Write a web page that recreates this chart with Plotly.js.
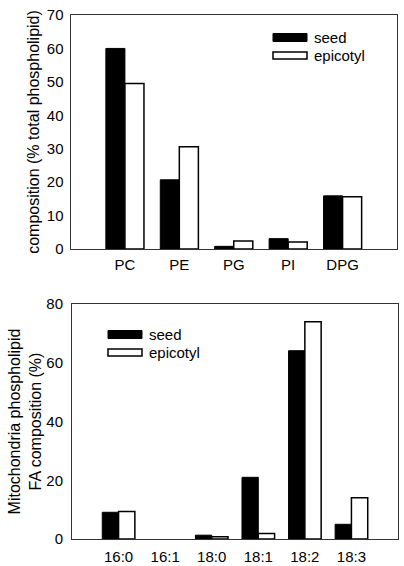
<!DOCTYPE html>
<html><head><meta charset="utf-8">
<script src="https://cdn.plot.ly/plotly-3.0.1.min.js"></script>
<style>html,body{margin:0;padding:0;background:#fff;}#chart{width:404px;height:566px;}</style>
</head><body><div id="chart"></div>
<script>
// Top panel: phospholipid class composition
const classCats = ['PC', 'PE', 'PG', 'PI', 'DPG'];
const classSeed = [60.0, 20.7, 0.8, 3.1, 15.9];
const classEpicotyl = [49.5, 30.6, 2.4, 2.1, 15.6];
// Bottom panel: fatty acid composition
const faCats = ['16:0', '16:1', '18:0', '18:1', '18:2', '18:3'];
const faSeed = [9.1, 0, 1.3, 21.0, 64.1, 5.0];
const faEpicotyl = [9.4, 0, 0.8, 1.9, 74.0, 14.0];
const seriesNames = ['seed', 'epicotyl'];

const W = 404, H = 566;
const px = v => v / W;
const py = v => 1 - v / H;
const FONT = 'Liberation Sans, Arial, sans-serif';
const lw = (vals, w) => vals.map(v => v > 0 ? w : 0);

const traces = [
  {type:'bar', x:classCats, y:classSeed, name:seriesNames[0], xaxis:'x', yaxis:'y',
   marker:{color:'#000', line:{color:'#000', width:lw(classSeed, 1)}}},
  {type:'bar', x:classCats, y:classEpicotyl, name:seriesNames[1], xaxis:'x', yaxis:'y',
   marker:{color:'#fff', line:{color:'#000', width:lw(classEpicotyl, 1.5)}}},
  {type:'bar', x:faCats, y:faSeed, name:seriesNames[0], xaxis:'x2', yaxis:'y2',
   marker:{color:'#000', line:{color:'#000', width:lw(faSeed, 1)}}},
  {type:'bar', x:faCats, y:faEpicotyl, name:seriesNames[1], xaxis:'x2', yaxis:'y2',
   marker:{color:'#fff', line:{color:'#000', width:lw(faEpicotyl, 1.5)}}}
];

const axLine = {showline:true, linecolor:'#333', linewidth:1, mirror:true, showgrid:false, zeroline:false, automargin:false};
const tf = {family:FONT, size:15, color:'#000'};

function legendItems(x0, yTop, yBot, textX) {
  const shapes = [
    {type:'rect', xref:'paper', yref:'paper', x0:px(x0), x1:px(x0+34), y0:py(yTop+4), y1:py(yTop-4),
     fillcolor:'#000', line:{color:'#000', width:1}},
    {type:'rect', xref:'paper', yref:'paper', x0:px(x0), x1:px(x0+34), y0:py(yBot+3.5), y1:py(yBot-3.5),
     fillcolor:'#fff', line:{color:'#000', width:1.5}}
  ];
  const ann = [
    {xref:'paper', yref:'paper', x:px(textX), y:py(yTop), xanchor:'left', yanchor:'middle', showarrow:false,
     text:seriesNames[0], font:tf},
    {xref:'paper', yref:'paper', x:px(textX), y:py(yBot), xanchor:'left', yanchor:'middle', showarrow:false,
     text:seriesNames[1], font:tf}
  ];
  return {shapes, ann};
}
const L1 = legendItems(273, 37.5, 55.5, 312);
const L2 = legendItems(108, 334.5, 352.5, 147);

const layout = {
  width:W, height:H,
  margin:{l:0, r:0, t:0, b:0},
  paper_bgcolor:'#fff', plot_bgcolor:'#fff',
  showlegend:false,
  barmode:'group', bargap:0.3, bargroupgap:0,
  font:{family:FONT, size:15, color:'#000'},
  xaxis:Object.assign({}, axLine, {domain:[px(70.5), px(397)], anchor:'y', range:[-1, 5], ticks:'', tickfont:tf, ticklabelstandoff:2}),
  yaxis:Object.assign({}, axLine, {domain:[py(249), py(15)], anchor:'x', range:[0, 70], dtick:10, ticks:'', tickfont:tf, ticklabelstandoff:3,
    title:{text:'composition (% total phospholipid)', font:{family:FONT, size:16, color:'#000'}, standoff:3}}),
  yaxis3:{overlaying:'y', side:'right', anchor:'x', range:[0, 70], dtick:10, ticks:'inside', ticklen:4, tickcolor:'#333',
    showticklabels:false, showgrid:false, zeroline:false, showline:false},
  xaxis2:Object.assign({}, axLine, {domain:[px(72), px(398)], anchor:'y2', range:[-1, 6], ticks:'', tickfont:tf, ticklabelstandoff:4}),
  yaxis2:Object.assign({}, axLine, {domain:[py(539), py(304)], anchor:'x2', range:[0, 80], dtick:20, ticks:'', tickfont:tf, ticklabelstandoff:5,
    title:{text:'Mitochondria phospholipid<br>FA composition (%)', font:{family:FONT, size:16, color:'#000'}, standoff:0}}),
  yaxis4:{overlaying:'y2', side:'right', anchor:'x2', range:[0, 80], dtick:20, ticks:'inside', ticklen:4, tickcolor:'#333',
    showticklabels:false, showgrid:false, zeroline:false, showline:false},
  shapes:L1.shapes.concat(L2.shapes),
  annotations:L1.ann.concat(L2.ann)
};

Plotly.newPlot('chart', traces, layout, {staticPlot:true});
</script></body></html>
